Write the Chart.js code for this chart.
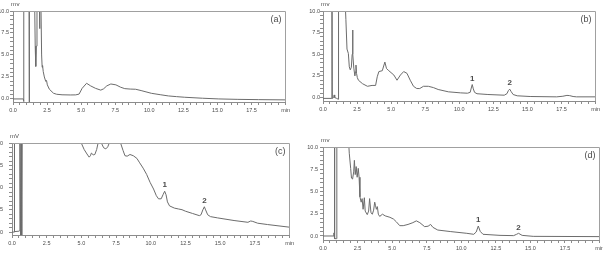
<!DOCTYPE html>
<html>
<head>
<meta charset="utf-8">
<script src="https://cdn.jsdelivr.net/npm/chart.js@4/dist/chart.umd.min.js"></script>
<style>
    html, body { margin: 0; padding: 0; background: #fff; overflow: hidden; }
    body { width: 603px; height: 254px; position: relative; }
    canvas { position: absolute; }
</style>
</head>
<body>
<canvas id="chartA" width="303" height="113" style="left:-11px;top:3px"></canvas>
<canvas id="chartB" width="303" height="112" style="left:299px;top:3px"></canvas>
<canvas id="chartC" width="308" height="115" style="left:-12px;top:134px"></canvas>
<canvas id="chartD" width="307" height="115" style="left:299px;top:139px"></canvas>
<script>
// retention time (min) and detector signal (mV)
const timeA = [0, 0.76, 0.78, 0.8, 1.18, 1.19, 1.21, 1.58, 1.63, 1.67, 1.71, 1.76, 1.92, 1.95, 1.98, 2.04, 2.1, 2.14, 2.17, 2.22, 2.3, 2.4, 2.46, 2.52, 2.67, 2.97, 3.2, 3.6, 4.2, 4.6, 4.85, 5.07, 5.4, 5.7, 6.06, 6.44, 6.65, 6.88, 7.18, 7.55, 7.9, 8.2, 8.6, 9.0, 9.4, 10.15, 10.8, 11.4, 12.0, 12.6, 13.9, 15.1, 16.5, 18.0, 20]
const mvA = [0, 0, -0.3, 12, 12, -0.5, 12, 12, 6, 3.7, 6, 12, 12, 8, 12, 12, 5, 3.6, 3.8, 3.1, 2.5, 2.0, 2.1, 1.6, 1.1, 0.65, 0.53, 0.47, 0.45, 0.46, 0.55, 1.2, 1.78, 1.48, 1.2, 1.0, 1.15, 1.48, 1.7, 1.6, 1.33, 1.17, 1.12, 1.1, 0.95, 0.64, 0.48, 0.34, 0.26, 0.19, 0.08, 0.0, -0.05, -0.08, -0.11]

const timeB = [0, 0.64, 0.66, 0.68, 0.78, 0.82, 0.86, 1.0, 1.12, 1.14, 1.6, 1.68, 1.76, 1.86, 1.93, 2.0, 2.08, 2.14, 2.17, 2.2, 2.26, 2.34, 2.39, 2.42, 2.46, 2.52, 2.6, 2.9, 3.26, 3.6, 3.86, 3.98, 4.1, 4.35, 4.54, 4.66, 4.83, 5.2, 5.43, 5.68, 5.92, 6.16, 6.4, 6.64, 6.88, 7.1, 7.37, 7.73, 8.1, 8.45, 9.2, 10.1, 10.6, 10.8, 10.88, 10.95, 11.03, 11.12, 11.3, 12.1, 13.3, 13.5, 13.6, 13.7, 13.8, 13.95, 14.25, 15.2, 17.15, 17.6, 17.9, 18.1, 18.35, 18.6, 20]
const mvB = [-0.1, -0.1, 12, -0.1, 0.0, 0.3, 0.0, -0.1, -0.2, 12, 12, 9.0, 5.6, 5.1, 3.55, 3.2, 3.5, 5.0, 7.8, 5.0, 3.4, 2.5, 3.0, 3.75, 2.8, 2.3, 2.0, 1.6, 1.3, 1.4, 1.4, 2.4, 3.0, 3.1, 4.1, 3.35, 3.1, 2.6, 2.0, 2.6, 3.0, 2.8, 2.0, 1.3, 1.04, 1.04, 1.3, 1.3, 1.15, 0.93, 0.66, 0.54, 0.5, 0.6, 1.1, 1.5, 1.0, 0.6, 0.44, 0.35, 0.27, 0.45, 0.8, 0.97, 0.7, 0.35, 0.2, 0.12, 0.08, 0.15, 0.25, 0.22, 0.12, 0.08, 0.08]

const timeC = [0, 0.15, 0.17, 0.19, 0.5, 0.55, 0.57, 0.62, 0.66, 0.7, 0.73, 4.9, 5.0, 5.2, 5.4, 5.56, 5.65, 5.72, 5.85, 5.97, 6.1, 6.2, 6.3, 6.38, 6.45, 6.6, 6.76, 6.9, 7.0, 7.1, 7.75, 7.83, 8.0, 8.14, 8.3, 8.5, 8.74, 9.0, 9.2, 9.45, 9.7, 9.95, 10.2, 10.4, 10.56, 10.75, 10.88, 11.0, 11.1, 11.2, 11.35, 11.7, 12.0, 12.25, 12.5, 13.0, 13.5, 13.62, 13.75, 13.86, 13.95, 14.1, 14.3, 14.8, 16.0, 17.0, 17.2, 17.35, 17.7, 18.4, 20]
const mvC = [0.0, 0.0, 12, 0.05, 0.1, 0.15, 12, -0.4, 12, -0.4, 12, 12, 10.0, 9.3, 8.8, 8.44, 8.6, 8.9, 8.7, 8.74, 9.3, 10.0, 10.8, 10.8, 10.0, 9.5, 9.37, 9.6, 10.0, 10.8, 10.8, 10.0, 9.2, 8.6, 8.55, 8.74, 8.6, 8.3, 7.8, 7.2, 6.5, 5.6, 4.85, 4.1, 3.74, 3.75, 4.2, 4.6, 4.2, 3.4, 2.95, 2.7, 2.6, 2.52, 2.35, 2.1, 1.85, 1.95, 2.5, 2.85, 2.5, 1.95, 1.74, 1.6, 1.3, 1.1, 1.25, 1.2, 1.0, 0.85, 0.55]

const timeD = [0, 0.76, 0.79, 0.81, 0.83, 0.85, 0.98, 1.0, 1.8, 1.9, 2.0, 2.06, 2.14, 2.22, 2.27, 2.33, 2.4, 2.47, 2.55, 2.61, 2.67, 2.76, 2.83, 2.9, 2.99, 3.05, 3.2, 3.3, 3.37, 3.47, 3.57, 3.66, 3.74, 3.8, 3.86, 3.93, 4.0, 4.1, 4.3, 4.5, 4.84, 5.1, 5.3, 5.55, 5.8, 6.15, 6.5, 6.75, 7.0, 7.35, 7.6, 7.78, 7.95, 8.3, 9.2, 10.4, 10.9, 11.08, 11.23, 11.37, 11.57, 12.8, 13.78, 14.0, 14.14, 14.4, 15.2, 20]
const mvD = [0, 0, 0.35, 0, 12, -0.3, -0.3, 12, 12, 9.3, 7.6, 6.5, 6.4, 7.2, 8.5, 6.9, 7.8, 6.6, 7.6, 6.6, 4.4, 3.8, 4.2, 3.0, 4.3, 2.8, 2.4, 2.8, 4.2, 2.6, 2.45, 2.9, 3.8, 3.4, 3.0, 3.3, 2.45, 2.2, 2.45, 2.26, 2.1, 1.9, 1.6, 1.16, 1.16, 1.3, 1.5, 1.7, 1.5, 1.05, 1.1, 1.3, 0.97, 0.67, 0.5, 0.3, 0.19, 0.45, 1.12, 0.52, 0.19, 0.07, 0.04, 0.19, 0.3, 0.07, -0.04, -0.07]

// numbered peaks
const peakNames = ['1', '2']
const peakTimesB = [10.95, 13.7]
const peakHeightsB = [1.5, 0.97]
const peakTimesC = [11.0, 13.86]
const peakHeightsC = [4.6, 2.85]
const peakTimesD = [11.23, 14.14]
const peakHeightsD = [1.12, 0.3]

// axis ticks: a mark every 0.5, a label every 2.5
const xMax = 20
const yMax = 10
const tickStep = 0.5
const labelStep = 2.5
const xEndLabel = 'min'
const yUnitLabel = 'mV'

const fontFamily = 'Arial, "Liberation Sans", sans-serif'
const textColor = '#4a4a4a'
const axisColor = '#8c8c8c'

const tickValues = (from, to) => {
    const out = []
    for (let v = from; v <= to + 1e-9; v += tickStep) out.push({ value: Math.round(v * 10) / 10 })
    return out
}

const isLabelled = (v) => Math.abs(v / labelStep - Math.round(v / labelStep)) < 1e-6

// frame, unit label, panel letter and peak numbers
const decorations = {
    id: 'decorations',
    afterDraw(chart, args, opts) {
        const { ctx, chartArea: a, scales } = chart
        ctx.save()
        ctx.strokeStyle = '#a0a0a0'
        ctx.lineWidth = 1
        ctx.beginPath()
        ctx.moveTo(Math.round(a.left) + 0.5, Math.round(a.top) + 0.5)
        ctx.lineTo(Math.round(a.right) - 0.5, Math.round(a.top) + 0.5)
        ctx.lineTo(Math.round(a.right) - 0.5, Math.round(a.bottom))
        ctx.stroke()

        ctx.fillStyle = textColor
        ctx.font = `6px ${fontFamily}`
        ctx.textAlign = 'left'
        ctx.textBaseline = 'bottom'
        ctx.fillText(yUnitLabel, a.left - 2, a.top - 4)

        ctx.font = `9px ${fontFamily}`
        ctx.textAlign = 'right'
        ctx.textBaseline = 'top'
        ctx.fillText(opts.panel, a.right - 4, a.top + 4)

        ctx.font = `bold 8px ${fontFamily}`
        ctx.textAlign = 'center'
        ctx.textBaseline = 'bottom'
        opts.peakTimes.forEach((t, i) => {
            const x = scales.x.getPixelForValue(t)
            const y = scales.y.getPixelForValue(opts.peakHeights[i])
            ctx.fillText(peakNames[i], x, y - 2)
        })
        ctx.restore()
    }
}

const makeChart = (id, times, values, yMin, panel, peakTimes, peakHeights, yPad) => {
    const points = times.map((t, i) => ({ x: t, y: values[i] }))
    return new Chart(document.getElementById(id), {
        type: 'line',
        data: {
            datasets: [{
                data: points,
                borderColor: '#6c6c6c',
                borderWidth: 1,
                pointRadius: 0,
                tension: 0,
            }],
        },
        options: {
            responsive: false,
            animation: false,
            events: [],
            layout: { padding: { top: 8, right: 6, left: 0, bottom: 0 } },
            plugins: {
                legend: { display: false },
                tooltip: { enabled: false },
                decorations: { panel, peakTimes, peakHeights },
            },
            scales: {
                x: {
                    type: 'linear',
                    min: 0,
                    max: xMax,
                    afterFit: (s) => { s.height = 14 },
                    afterBuildTicks: (s) => { s.ticks = tickValues(0, xMax) },
                    border: { color: axisColor },
                    grid: { drawOnChartArea: false, tickLength: 3, color: axisColor },
                    ticks: {
                        autoSkip: false,
                        maxRotation: 0,
                        padding: 2,
                        color: textColor,
                        font: { size: 5.5, family: fontFamily },
                        callback: (v) => v === xMax ? xEndLabel : (isLabelled(v) ? v.toFixed(1) : ''),
                    },
                },
                y: {
                    type: 'linear',
                    min: yMin,
                    max: yMax,
                    afterFit: (s) => { s.width = 24 },
                    afterBuildTicks: (s) => { s.ticks = tickValues(0, yMax) },
                    border: { color: axisColor },
                    grid: { drawOnChartArea: false, tickLength: 3, color: axisColor },
                    ticks: {
                        autoSkip: false,
                        padding: yPad,
                        color: textColor,
                        font: { size: 5.5, family: fontFamily },
                        callback: (v) => isLabelled(v) ? v.toFixed(1) : '',
                    },
                },
            },
        },
        plugins: [decorations],
    })
}

makeChart('chartA', timeA, mvA, -0.35, '(a)', [], [], 1)
makeChart('chartB', timeB, mvB, -0.4, '(b)', peakTimesB, peakHeightsB, 0)
makeChart('chartC', timeC, mvC, -0.33, '(c)', peakTimesC, peakHeightsC, 6)
makeChart('chartD', timeD, mvD, -0.45, '(d)', peakTimesD, peakHeightsD, 2)
</script>
</body>
</html>
